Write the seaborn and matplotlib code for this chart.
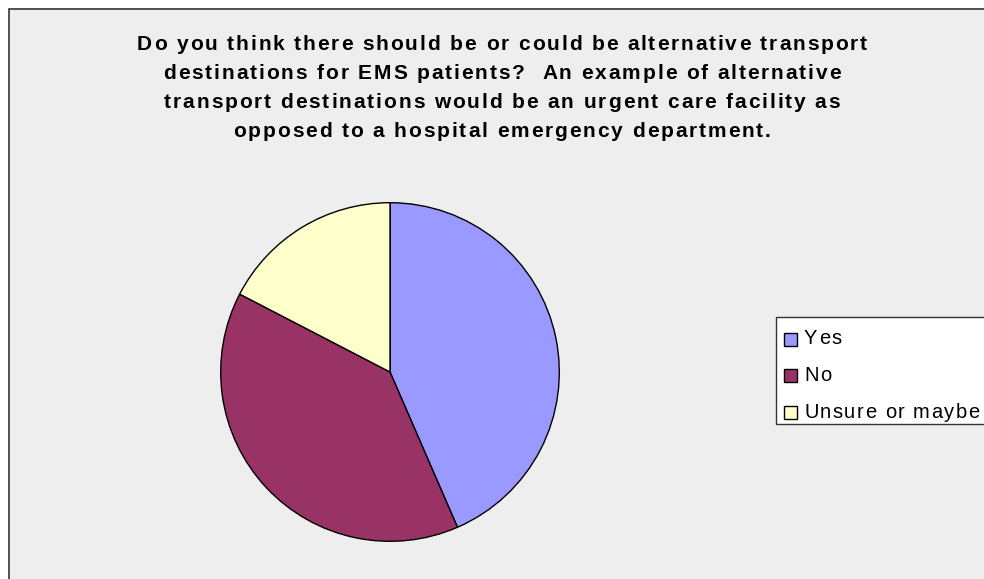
import matplotlib
matplotlib.use("Agg")
import matplotlib.pyplot as plt
from matplotlib.patches import Rectangle
from matplotlib.font_manager import FontProperties, findfont, get_font
import seaborn as sns

# Survey responses
categories = ["Yes", "No", "Unsure or maybe"]
counts = [10, 9, 4]
slice_colors = ["#9999FF", "#993366", "#FFFFCC"]
title_lines = [
    "Do you think there should be or could be alternative transport",
    "destinations for EMS patients?  An example of alternative",
    "transport destinations would be an urgent care facility as",
    "opposed to a hospital emergency department.",
]

sns.set_theme(style="white")
plt.rcParams["font.family"] = ["Liberation Sans", "DejaVu Sans"]

W, H = 984, 579
DPI = 100
fig = plt.figure(figsize=(W / DPI, H / DPI), dpi=DPI)
fig.patch.set_facecolor("white")


def px(x, y):
    """Pixel position (from top-left) to figure fraction."""
    return x / W, 1 - y / H


def advances(s, size, weight):
    fp = FontProperties(family="Liberation Sans", weight=weight, size=size)
    font = get_font(findfont(fp), hinting_factor=1)
    font.set_size(size, DPI)
    out = []
    for c in s:
        g = font.load_char(ord(c))
        out.append(g.linearHoriAdvance / 65536.0)
    return out


def spaced_text(s, x, y, size, weight, tracking, ha="left"):
    """Draw a string with extra letter spacing; x, y in pixels, y = baseline."""
    adv = advances(s, size, weight)
    total = sum(adv) + tracking * (len(s) - 1)
    x0 = x - total / 2 if ha == "center" else x
    cur = x0
    for c, a in zip(s, adv):
        if c != " ":
            fx, fy = px(cur, y)
            fig.text(fx, fy, c, ha="left", va="baseline", fontsize=size,
                     fontweight=weight, color="black",
                     family=["Liberation Sans", "DejaVu Sans"])
        cur += a + tracking
    return total


# Chart area frame (runs off the right and bottom edges)
fig.patches.append(Rectangle(px(9, 600), 1.0, (600 - 8.5) / H,
                             transform=fig.transFigure, facecolor="#EEEEEE",
                             edgecolor="#333333", linewidth=1.2, zorder=-5))

# Pie axes: centre (390, 372) px, radius 171 px
cx, cy, r = 390, 372, 171
ax = fig.add_axes([(cx - r) / W, (H - cy - r) / H, 2 * r / W, 2 * r / H])
ax.set_facecolor("none")
wedges, _ = ax.pie(counts, colors=sns.color_palette(slice_colors),
                   startangle=90, counterclock=False, radius=1.0,
                   wedgeprops=dict(edgecolor="black", linewidth=1.0))
ax.set_xlim(-1.01, 1.01)
ax.set_ylim(-1.01, 1.01)
ax.set_aspect("equal")
ax.axis("off")

# Title with slightly widened letter spacing
t_size = 15.0
nat = sum(advances(title_lines[0], t_size, "bold"))
t_track = (730 - nat) / (len(title_lines[0]) - 1)
for i, line in enumerate(title_lines):
    spaced_text(line, 502, 49.5 + i * 29.3, t_size, "bold", t_track, ha="center")

# Legend box
lx, ly, lh = 776, 317, 107
fig.patches.append(Rectangle(px(lx, ly + lh), 1.0, lh / H,
                             transform=fig.transFigure, facecolor="white",
                             edgecolor="#333333", linewidth=1.0, zorder=2))
l_size = 14.5
nat_l = sum(advances(categories[2], l_size, "normal"))
l_track = (175 - nat_l) / (len(categories[2]) - 1)
for i, (lab, w) in enumerate(zip(categories, wedges)):
    base = 344 + i * 36.8
    fig.patches.append(Rectangle(px(783.5, base + 1.5), 13 / W, 13 / H,
                                 transform=fig.transFigure,
                                 facecolor=w.get_facecolor(),
                                 edgecolor="black", linewidth=1.0, zorder=3))
    spaced_text(lab, 804, base, l_size, "normal", l_track)

fig.savefig("out.png", dpi=DPI)
